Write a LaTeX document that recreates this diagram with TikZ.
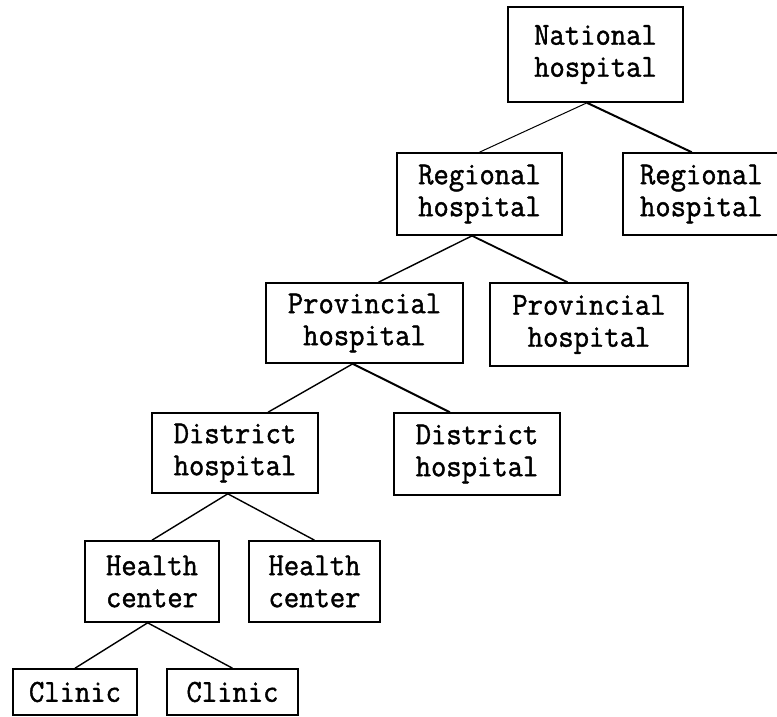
\documentclass[tikz,border=0pt]{standalone}
\usepackage{xcolor}
\usepackage{fontspec}
\usepackage{tikz}
\newfontfamily\typewriter{Latin Modern Mono}[FakeBold=1.3, FakeStretch=0.93]

\begin{document}
\begin{tikzpicture}[x=1pt, y=-1pt,
    box/.style={draw, line width=1.6pt, font=\typewriter\fontsize{32}{32}\selectfont, align=center, inner sep=0pt},
    link/.style={line width=1.4pt}]
          \useasboundingbox (0,0) rectangle (777,717);
          \clip (0,0) rectangle (777,717);

          \foreach \name/\x/\y/\w/\h/\txt in {nat/595.5/54.5/175/95/{National\\hospital},
              regl/479.5/194/165/82/{Regional\\hospital},
              provl/364.5/323/197/80/{Provincial\\hospital}, provr/589/324.5/198/83/{Provincial\\hospital},
              distl/235/453/166/80/{District\\hospital}, distr/477/454/166/82/{District\\hospital},
              hcl/152/581.5/134/81/{Health\\center}, hcr/314.5/581.5/131/81/{Health\\center},
              cll/75/692/124/46/{Clinic}, clr/232.5/692/131/46/{Clinic}}{%
            \node[box, minimum width=\w pt, minimum height=\h pt] (\name) at (\x, \y) {\txt};
          }
          % right edge runs off the page
          \node[box, minimum width=180pt, minimum height=82pt, text width=146pt, align=left] (regr) at (713, 194) {Regional\\hospital};

          \draw [link, line width=1pt] (nat.-100) -- (regl.north);
          \draw [link, line width=2pt] (nat.-100) -- (regr.117);
          \draw [link] (regl.-100) -- (provl.71);
          \draw [link, line width=1.8pt] (regl.-100) -- (provr.117);
          \draw [link] (provl.-106) -- (distl.51);
          \draw [link, line width=2pt] (provl.-106) -- (distr.123);
          \draw [link] (distl.-100) -- (hcl.north);
          \draw [link] (distl.-100) -- (hcr.north);
          \draw [link] (hcl.-96) -- (cll.north);
          \draw [link] (hcl.-96) -- (clr.north);
        \end{tikzpicture}
\end{document}
